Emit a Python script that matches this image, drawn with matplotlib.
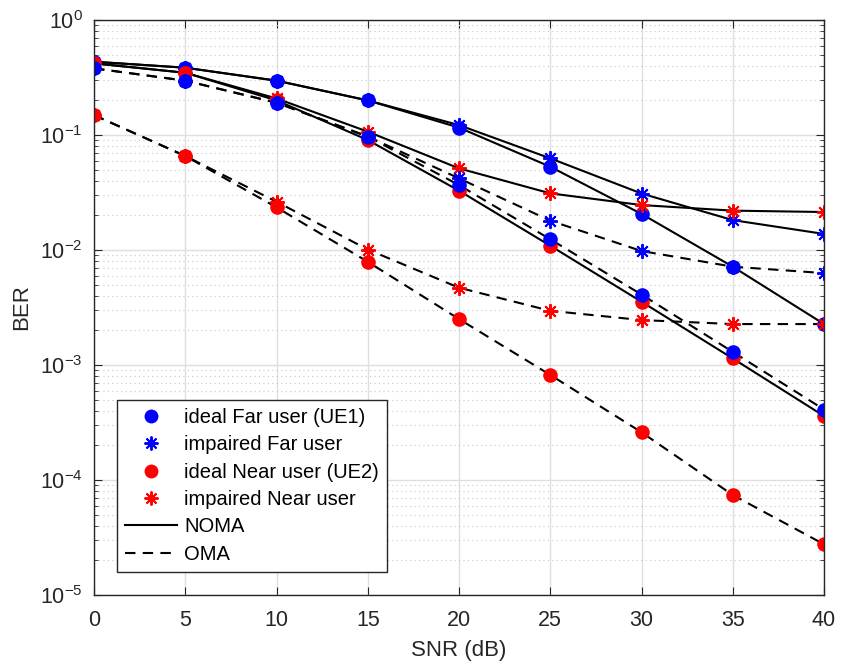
import numpy as np
import matplotlib.pyplot as plt
from matplotlib.lines import Line2D

plt.rcParams['font.family'] = ['Liberation Sans', 'DejaVu Sans']

snr = [0, 5, 10, 15, 20, 25, 30, 35, 40]

# NOMA (solid lines)
noma_far_ideal = [0.434, 0.385, 0.297, 0.2, 0.116, 0.053, 0.0206, 0.00716, 0.00227]
noma_far_imp = [0.434, 0.385, 0.297, 0.2, 0.122, 0.0627, 0.031, 0.0182, 0.0138]
noma_near_ideal = [0.42, 0.348, 0.2, 0.0905, 0.0328, 0.0109, 0.00355, 0.00114, 0.00036]
noma_near_imp = [0.42, 0.348, 0.208, 0.107, 0.0513, 0.0311, 0.0246, 0.022, 0.0214]

# OMA (dashed lines)
oma_far_ideal = [0.38, 0.297, 0.191, 0.097, 0.0367, 0.0124, 0.0041, 0.0013, 0.00041]
oma_far_imp = [0.38, 0.297, 0.191, 0.097, 0.042, 0.018, 0.0098, 0.00716, 0.0063]
oma_near_ideal = [0.149, 0.0657, 0.0235, 0.0079, 0.00251, 0.00082, 0.00026, 7.4e-5, 2.76e-5]
oma_near_imp = [0.149, 0.0657, 0.0263, 0.0101, 0.0047, 0.00296, 0.00246, 0.00227, 0.00227]

legend_labels = ['ideal Far user (UE1)', 'impaired Far user', 'ideal Near user (UE2)',
                 'impaired Near user', 'NOMA', 'OMA']

ast = (8, 2, 0)
dark = '#262626'

fig = plt.figure(figsize=(8.41, 6.68), dpi=100)
ax = fig.add_axes([0.1118, 0.1093, 0.8680, 0.8607])

series = [
    (noma_far_ideal, '-', 'o', 'b'),
    (noma_far_imp, '-', ast, 'b'),
    (noma_near_ideal, '-', 'o', 'r'),
    (noma_near_imp, '-', ast, 'r'),
    (oma_far_ideal, '--', 'o', 'b'),
    (oma_far_imp, '--', ast, 'b'),
    (oma_near_ideal, '--', 'o', 'r'),
    (oma_near_imp, '--', ast, 'r'),
]

for ys, ls, mk, c in series:
    ax.semilogy(snr, ys, color='k', linestyle=ls, linewidth=1.5, dashes=(5, 3.5) if ls == '--' else (None, None))
for ys, ls, mk, c in series:
    if mk == 'o':
        ax.semilogy(snr, ys, linestyle='none', marker='o', markersize=10.5,
                    markerfacecolor=c, markeredgecolor='none')
    else:
        ax.semilogy(snr, ys, linestyle='none', marker=mk, markersize=10.5,
                    markeredgecolor=c, markeredgewidth=1.4)

ax.set_xlim(0, 40)
ax.set_ylim(1e-5, 1)
ax.set_xticks(snr)
ax.set_xlabel('SNR (dB)', fontsize=16, color=dark, labelpad=6)
ax.set_ylabel('BER', fontsize=16, color=dark, labelpad=6)
ax.tick_params(axis='both', which='both', direction='in', top=True, right=True,
               labelsize=15.5, colors=dark)
ax.tick_params(axis='x', which='major', pad=11)
ax.tick_params(axis='y', which='major', pad=8)
ax.tick_params(which='major', length=6)
ax.tick_params(which='minor', length=3)
ax.grid(True, which='major', color='#dfdfdf', linewidth=1)
ax.grid(True, which='minor', axis='y', color='#c8c8c8', linestyle=(0, (1, 3)), linewidth=0.8)
ax.set_axisbelow(True)
for s in ax.spines.values():
    s.set_color(dark)
    s.set_linewidth(1)

handles = [
    Line2D([], [], linestyle='none', marker='o', markersize=10, markerfacecolor='b', markeredgecolor='none'),
    Line2D([], [], linestyle='none', marker=ast, markersize=10, markeredgecolor='b', markeredgewidth=1.4),
    Line2D([], [], linestyle='none', marker='o', markersize=10, markerfacecolor='r', markeredgecolor='none'),
    Line2D([], [], linestyle='none', marker=ast, markersize=10, markeredgecolor='r', markeredgewidth=1.4),
    Line2D([], [], color='k', linestyle='-', linewidth=1.5),
    Line2D([], [], color='k', linestyle='--', linewidth=1.5, dashes=(5, 3.5)),
]
leg = ax.legend(handles, legend_labels, loc='lower left', bbox_to_anchor=(0.0315, 0.04),
                borderaxespad=0, fontsize=14.5, frameon=True, fancybox=False, framealpha=1,
                edgecolor=dark, handlelength=2.6, handletextpad=0.35,
                labelspacing=0.42, borderpad=0.4)
leg.get_frame().set_linewidth(1)

fig.savefig('out.png', dpi=100)
